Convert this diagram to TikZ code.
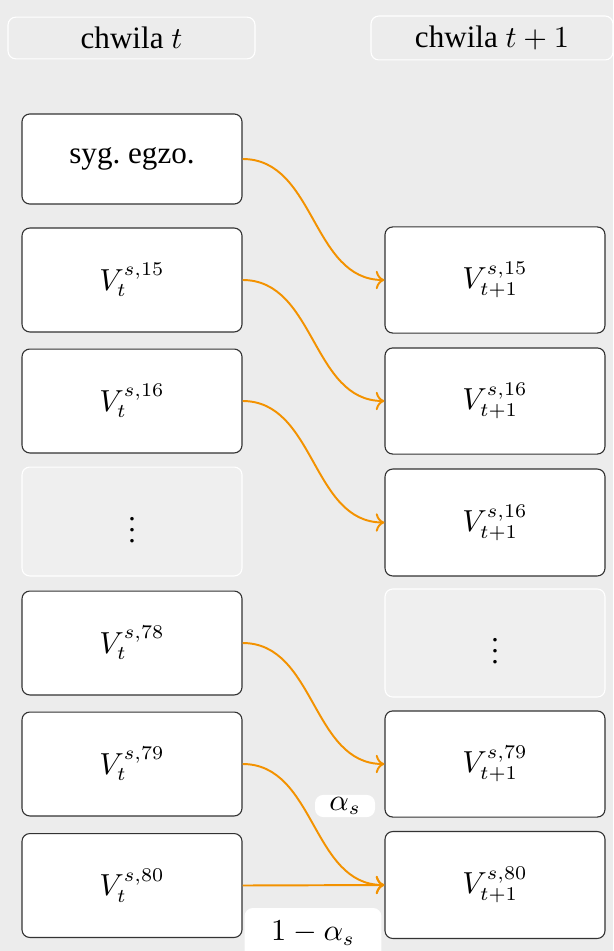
\documentclass[tikz,border=0pt]{standalone}
\usepackage{amsmath}
\usepackage{fontspec}
\setmainfont{Liberation Serif}
\usetikzlibrary{arrows.meta}
\definecolor{bgc}{RGB}{236,236,236}
\definecolor{gapc}{RGB}{239,239,239}
\definecolor{flow}{RGB}{243,146,0}
\frenchspacing
\begin{document}
\begin{tikzpicture}[x=0.36pt,y=-0.36pt,
  font=\fontsize{10.7}{13}\selectfont,
  txt/.style={font=\fontsize{11.2}{13}\selectfont},
  statebox/.style={draw=black!80,fill=white,rounded corners=2.8pt,line width=0.4pt,
    minimum width=79.2pt,minimum height=37.4pt,inner sep=0pt},
  gapbox/.style={statebox,draw=white,fill=gapc},
  headbox/.style={draw=white,fill=bgc,rounded corners=2.8pt,line width=0.4pt,
    minimum height=15pt,inner sep=0pt,txt},
  flowline/.style={draw=flow,line width=0.7pt,->},
  wlabel/.style={fill=white,rounded corners=3pt,inner sep=0pt}]
  % canvas
  \fill[bgc] (0,0) rectangle (613,951);
  \useasboundingbox (0,0) rectangle (613,951);
  % column headers
  \node[headbox,minimum width=88.9pt] (hl) at (131.5,38) {chwila $t$};
  \node[headbox,minimum width=87.1pt,minimum height=15.8pt] (hr) at (492,38) {chwila $t+1$};
  % time t
  \node[statebox,minimum height=32.4pt,txt] (syg) at (132,159) {syg. egzo.};
  \node[statebox] (a15) at (132,280) {$V_t^{s,15}$};
  \node[statebox] (a16) at (132,401) {$V_t^{s,16}$};
  \node[gapbox,minimum height=39.2pt] (adots) at (132,521.5) {$\vdots$};
  \node[statebox] (a78) at (132,643) {$V_t^{s,78}$};
  \node[statebox] (a79) at (132,764) {$V_t^{s,79}$};
  \node[statebox] (a80) at (132,885.5) {$V_t^{s,80}$};
  % time t+1
  \node[statebox,minimum height=38.2pt] (b15) at (495,280) {$V_{t+1}^{s,15}$};
  \node[statebox,minimum height=38.2pt] (b16) at (495,401) {$V_{t+1}^{s,16}$};
  \node[statebox,minimum height=38.5pt] (b16b) at (495,522.5) {$V_{t+1}^{s,16}$};
  \node[gapbox,minimum height=38.9pt] (bdots) at (495,643) {$\vdots$};
  \node[statebox,minimum height=38.2pt] (b79) at (495,764) {$V_{t+1}^{s,79}$};
  \node[statebox,minimum height=38.5pt] (b80) at (495,885) {$V_{t+1}^{s,80}$};
  % transitions
  \draw[flowline] (syg.east) to[out=0,in=180] (b15.west);
  \draw[flowline] (a15.east) to[out=0,in=180] (b16.west);
  \draw[flowline] (a16.east) to[out=0,in=180] (b16b.west);
  \draw[flowline] (a78.east) to[out=0,in=180] (b79.west);
  \draw[flowline] (a79.east) to[out=0,in=180] (b80.west);
  \draw[flowline] (a80.east) -- (b80.west);
  % weights
  \node[wlabel,minimum width=21.6pt,minimum height=8pt] (wa) at (345,806) {$\alpha_s$};
  \node[wlabel,minimum width=49.3pt,minimum height=18pt] (wb) at (313,933) {$1-\alpha_s$};
\end{tikzpicture}
\end{document}
